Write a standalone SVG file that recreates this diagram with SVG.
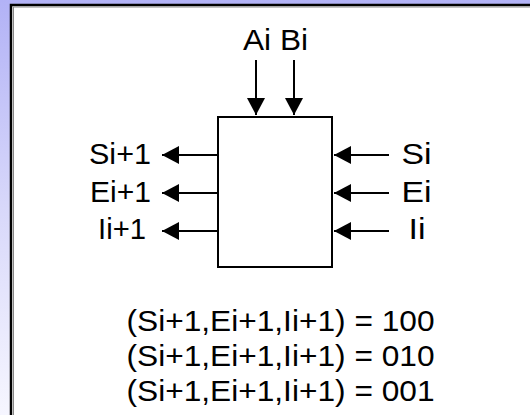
<svg xmlns="http://www.w3.org/2000/svg" width="530" height="415" viewBox="0 0 530 415">
<style>
.t{font-family:"Liberation Sans",Arial,sans-serif;font-size:29.5px;fill:#000;text-anchor:middle}
.w{stroke:#000;stroke-width:2;fill:none}
</style>
<defs>
<linearGradient id="bg" x1="0" y1="0" x2="0" y2="1">
<stop offset="0" stop-color="#b2b2f6"/>
<stop offset="0.5" stop-color="#d8d8fa"/>
<stop offset="1" stop-color="#f6f6ff"/>
</linearGradient>
<marker id="ah" viewBox="0 0 17 18" refX="17" refY="9" markerWidth="17" markerHeight="18" markerUnits="userSpaceOnUse" orient="auto">
<path d="M0,0 L17,9 L0,18 z" fill="#000"/>
</marker>
</defs>
<rect x="0" y="0" width="530" height="415" fill="url(#bg)"/>
<rect x="11" y="5" width="530" height="420" fill="#fff" stroke="#000" stroke-width="2.5"/>
<line x1="13" y1="7" x2="530" y2="7" stroke="#888" stroke-width="1"/>
<line x1="13.5" y1="7" x2="13.5" y2="415" stroke="#888" stroke-width="1"/>
<g id="block"><rect x="218" y="117" width="114" height="150" class="w"/></g>
<g id="connectors">
<line x1="256" y1="60" x2="256" y2="115" class="w" marker-end="url(#ah)"/>
<line x1="294" y1="60" x2="294" y2="115" class="w" marker-end="url(#ah)"/>
<line x1="218" y1="155" x2="162" y2="155" class="w" marker-end="url(#ah)"/>
<line x1="218" y1="193" x2="162" y2="193" class="w" marker-end="url(#ah)"/>
<line x1="218" y1="231" x2="162" y2="231" class="w" marker-end="url(#ah)"/>
<line x1="389" y1="155" x2="334" y2="155" class="w" marker-end="url(#ah)"/>
<line x1="389" y1="193" x2="334" y2="193" class="w" marker-end="url(#ah)"/>
<line x1="389" y1="231" x2="334" y2="231" class="w" marker-end="url(#ah)"/>
</g>
<g id="inputs-top"><text class="t" x="275.5" y="49.5" textLength="65" lengthAdjust="spacingAndGlyphs">Ai Bi</text></g>
<g id="outputs-left">
<text class="t" x="120" y="164" textLength="62" lengthAdjust="spacingAndGlyphs">Si+1</text>
<text class="t" x="120.5" y="201.5" textLength="61" lengthAdjust="spacingAndGlyphs">Ei+1</text>
<text class="t" x="122" y="238.5" textLength="48" lengthAdjust="spacingAndGlyphs">Ii+1</text>
</g>
<g id="inputs-right">
<text class="t" x="416.5" y="164" textLength="30" lengthAdjust="spacingAndGlyphs">Si</text>
<text class="t" x="416.5" y="201.5" textLength="30" lengthAdjust="spacingAndGlyphs">Ei</text>
<text class="t" x="417" y="238.5" textLength="17" lengthAdjust="spacingAndGlyphs">Ii</text>
</g>
<g id="states">
<text class="t" x="280.5" y="331" textLength="308" lengthAdjust="spacingAndGlyphs">(Si+1,Ei+1,Ii+1) = 100</text>
<text class="t" x="280.5" y="366" textLength="308" lengthAdjust="spacingAndGlyphs">(Si+1,Ei+1,Ii+1) = 010</text>
<text class="t" x="280.5" y="401" textLength="308" lengthAdjust="spacingAndGlyphs">(Si+1,Ei+1,Ii+1) = 001</text>
</g>
</svg>
